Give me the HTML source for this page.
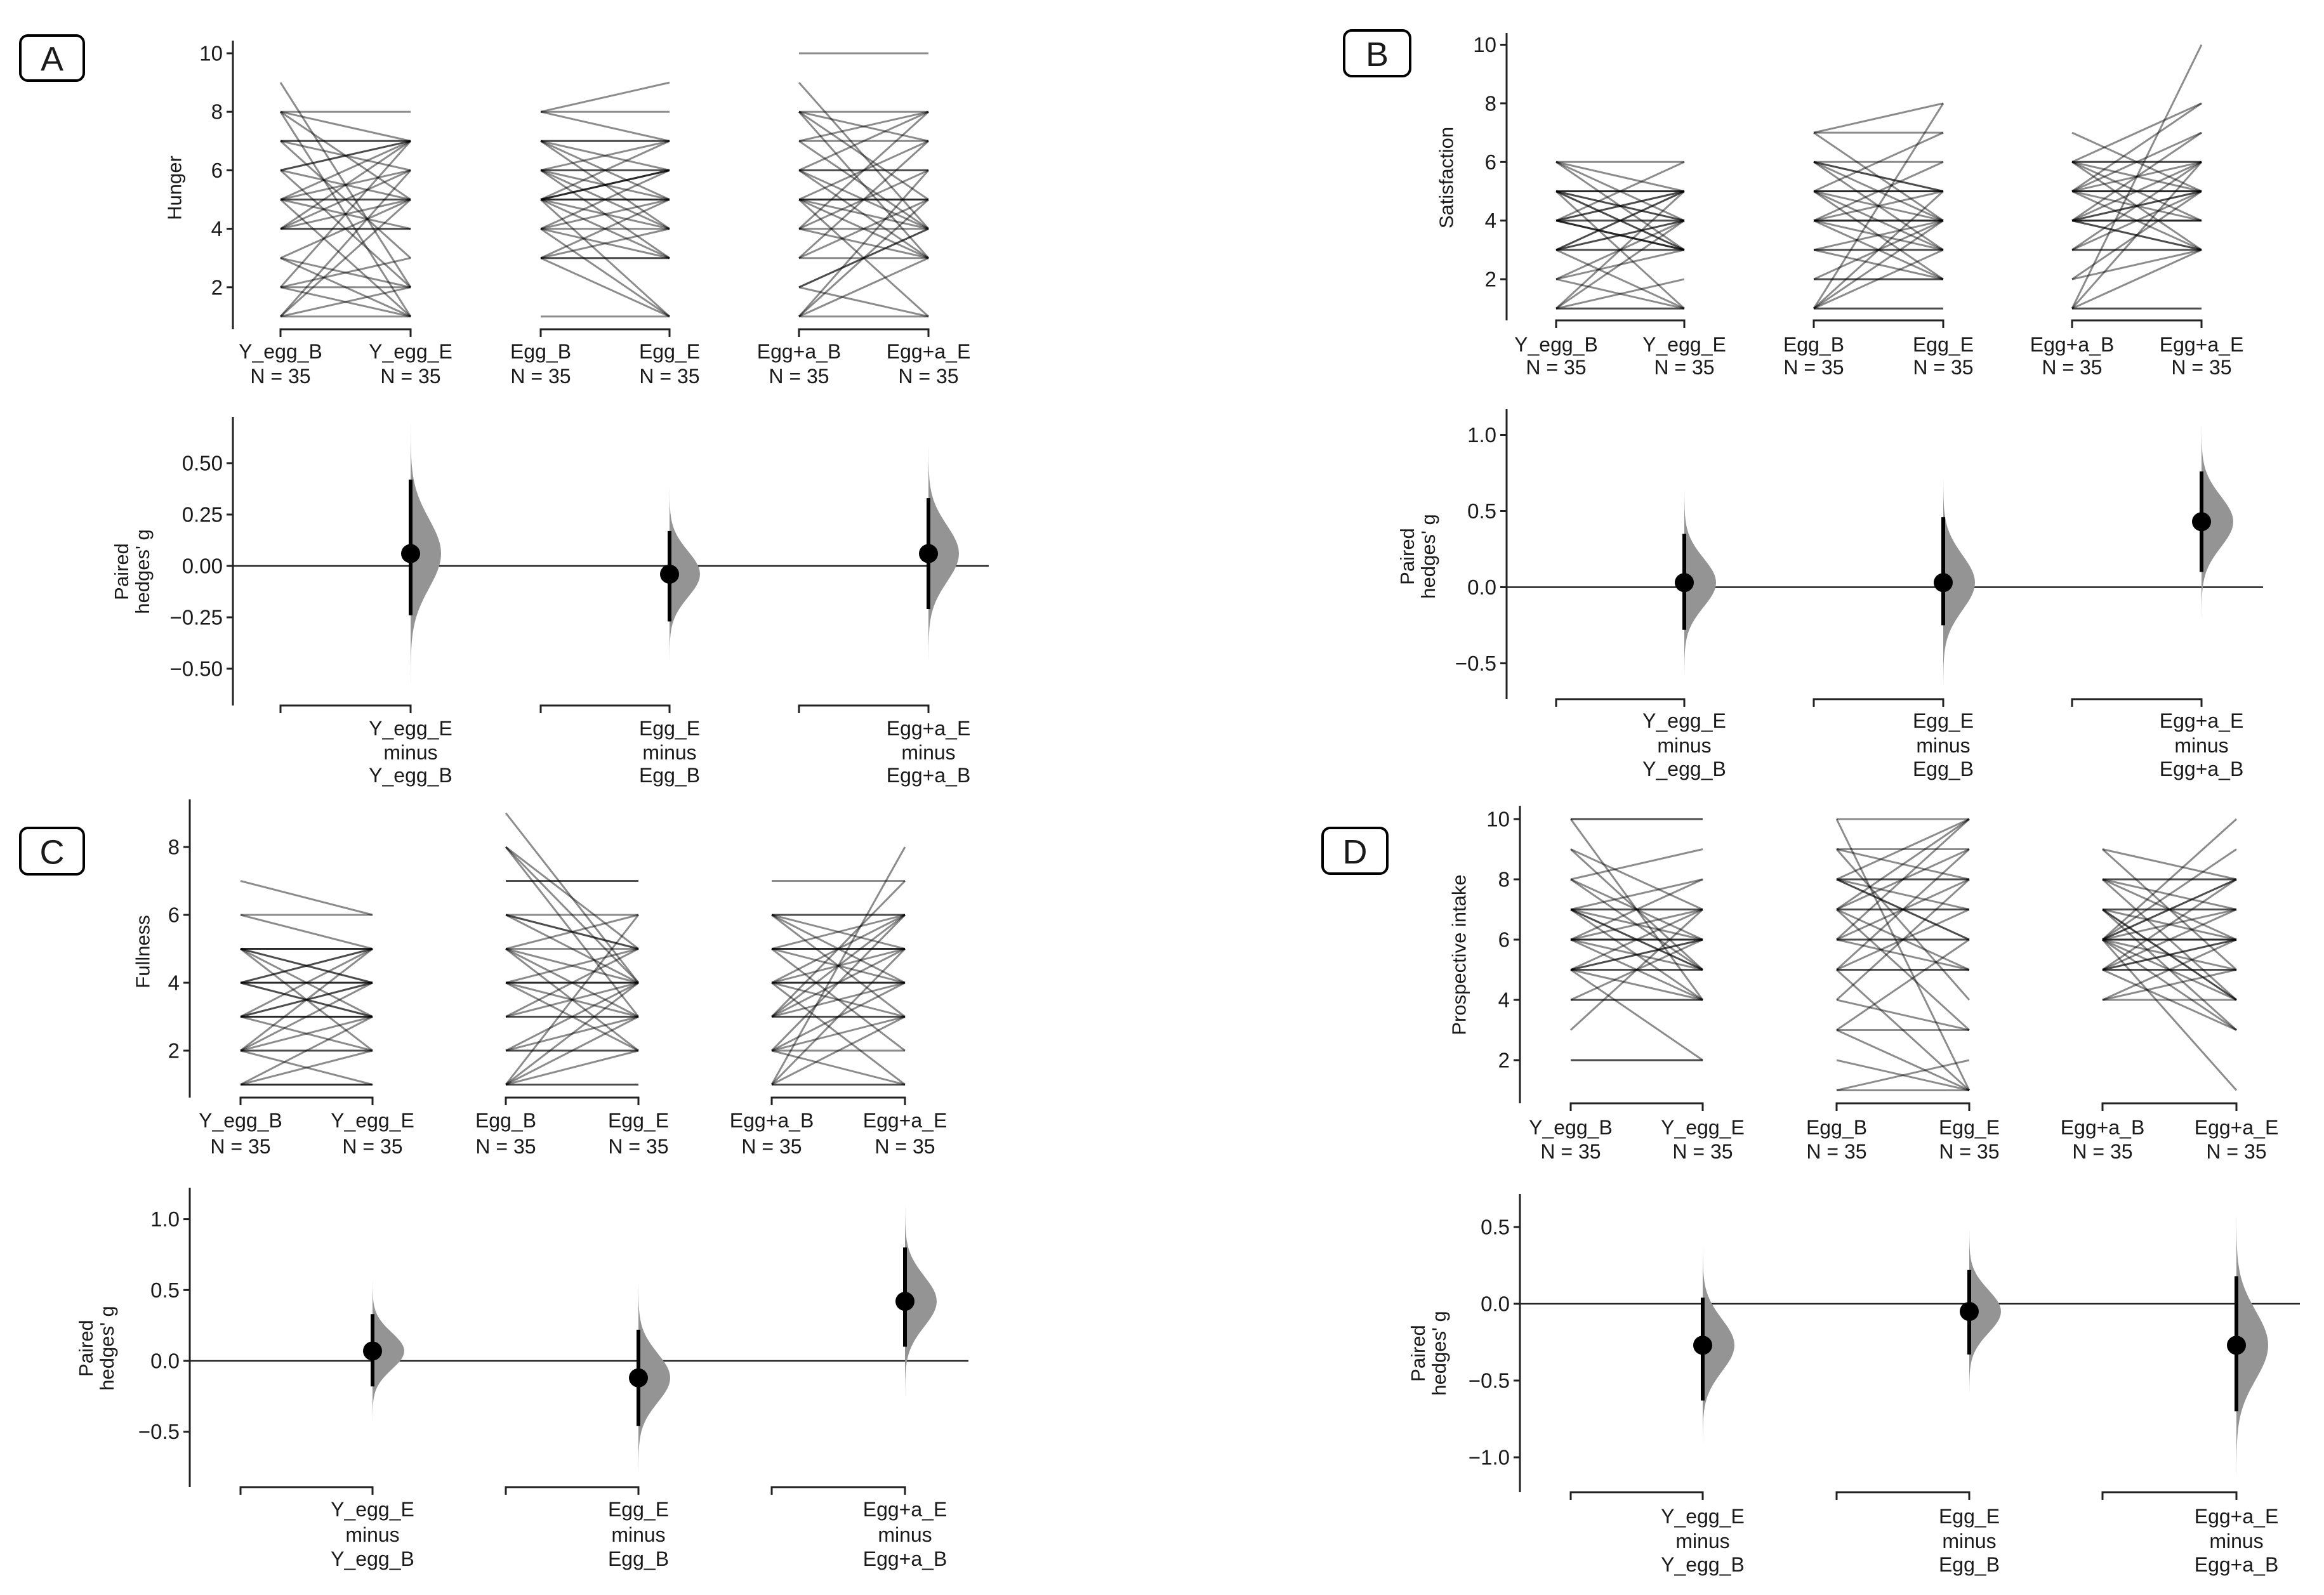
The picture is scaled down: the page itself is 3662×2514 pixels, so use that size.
<!DOCTYPE html>
<html><head><meta charset="utf-8"><style>
html,body{margin:0;padding:0;background:#fff;}
svg{display:block;font-family:"Liberation Sans","DejaVu Sans",sans-serif;}
</style></head><body>
<svg id="fig" width="3662" height="2514" viewBox="0 0 3662 2514" xmlns="http://www.w3.org/2000/svg"></svg>
<script>
const groupNames = ["Y_egg_B","Y_egg_E","Egg_B","Egg_E","Egg+a_B","Egg+a_E"];
const diffLabels = [["Y_egg_E","minus","Y_egg_B"],["Egg_E","minus","Egg_B"],["Egg+a_E","minus","Egg+a_B"]];
const nLabel = "N = 35";
// Panel A — Hunger
const hungerYegg = [[9,2],[8,8],[8,7],[8,5],[8,1],[7,7],[7,7],[7,6],[7,3],[6,7],[6,7],[6,5],[6,2],[5,5],[5,5],[5,6],[5,4],[5,1],[5,7],[4,4],[4,4],[4,7],[4,6],[4,5],[3,2],[3,5],[3,1],[2,2],[2,3],[2,7],[2,1],[1,1],[1,2],[1,6],[1,5]];
const hungerEgg = [[8,9],[8,8],[8,7],[7,7],[7,7],[7,6],[7,4],[7,5],[6,6],[6,6],[6,7],[6,5],[6,3],[5,5],[5,5],[5,6],[5,6],[5,4],[5,7],[5,3],[5,1],[5,6],[4,4],[4,5],[4,6],[4,3],[4,1],[3,3],[3,3],[3,1],[3,4],[3,5],[1,1],[6,4],[5,5]];
const hungerEggA = [[10,10],[9,4],[8,8],[8,7],[8,3],[8,5],[7,7],[7,8],[7,4],[6,6],[6,6],[6,3],[6,8],[5,5],[5,5],[5,5],[5,4],[5,3],[5,7],[5,1],[4,4],[4,8],[4,6],[4,3],[3,5],[3,7],[3,3],[2,1],[2,4],[2,4],[1,1],[1,5],[1,6],[1,3],[6,4]];
const hungerTicks = [2,4,6,8,10];
const hungerG = [0.06,-0.04,0.06];
const hungerLo = [-0.24,-0.27,-0.21];
const hungerHi = [0.42,0.17,0.33];
const hungerGTicks = [-0.5,-0.25,0,0.25,0.5];
// Panel B — Satisfaction
const satYegg = [[6,6],[6,5],[6,3],[6,4],[5,5],[5,5],[5,4],[5,3],[5,1],[5,4],[4,4],[4,4],[4,5],[4,5],[4,3],[4,6],[4,3],[3,3],[3,3],[3,5],[3,4],[3,1],[3,5],[2,4],[2,3],[2,1],[1,1],[1,1],[1,2],[1,5],[1,4],[5,3],[4,3],[3,4],[5,5]];
const satEgg = [[7,8],[7,7],[7,4],[6,6],[6,5],[6,4],[6,3],[6,5],[5,5],[5,5],[5,4],[5,2],[5,7],[5,3],[4,4],[4,4],[4,5],[4,3],[4,6],[4,2],[3,3],[3,3],[3,2],[3,4],[2,2],[2,2],[2,4],[1,8],[1,5],[1,4],[1,3],[1,1],[1,1],[4,4],[5,5]];
const satEggA = [[7,5],[6,8],[6,6],[6,6],[6,4],[6,3],[5,5],[5,5],[5,6],[5,7],[5,4],[5,3],[5,8],[4,4],[4,4],[4,5],[4,6],[4,7],[4,3],[4,3],[4,5],[3,3],[3,3],[3,5],[3,6],[2,3],[2,5],[1,10],[1,1],[1,1],[1,6],[1,3],[4,4],[5,5],[6,5]];
const satTicks = [2,4,6,8,10];
const satG = [0.03,0.03,0.43];
const satLo = [-0.28,-0.25,0.10];
const satHi = [0.35,0.46,0.76];
const satGTicks = [-0.5,0,0.5,1.0];
// Panel C — Fullness
const fullYegg = [[7,6],[6,5],[5,5],[5,5],[5,4],[5,4],[5,3],[5,2],[4,4],[4,4],[4,5],[4,5],[4,3],[3,3],[3,3],[3,4],[3,2],[3,5],[3,4],[2,2],[2,3],[2,1],[2,5],[2,4],[1,1],[1,1],[1,2],[1,3],[1,1],[4,4],[3,3],[5,5],[2,2],[6,6],[4,3]];
const fullEgg = [[9,4],[8,4],[8,3],[8,5],[7,7],[7,7],[6,6],[6,4],[6,5],[5,5],[5,4],[5,3],[5,2],[5,6],[4,4],[4,4],[4,4],[4,5],[4,2],[4,3],[3,3],[3,3],[3,4],[3,5],[2,2],[2,2],[2,4],[2,3],[1,1],[1,1],[1,4],[1,3],[1,2],[1,6],[6,5]];
const fullEggA = [[7,7],[6,6],[6,5],[6,3],[6,4],[5,5],[5,5],[5,4],[5,2],[5,6],[4,4],[4,4],[4,6],[4,5],[4,3],[4,1],[3,3],[3,3],[3,5],[3,6],[3,7],[2,2],[2,6],[2,3],[2,4],[1,1],[1,1],[1,8],[1,5],[1,3],[4,4],[5,5],[3,4],[2,1],[6,6]];
const fullTicks = [2,4,6,8];
const fullG = [0.07,-0.12,0.42];
const fullLo = [-0.18,-0.46,0.10];
const fullHi = [0.33,0.22,0.80];
const fullGTicks = [-0.5,0,0.5,1.0];
// Panel D — Prospective intake
const prosYegg = [[10,10],[10,10],[10,4],[9,7],[9,5],[8,9],[8,6],[8,5],[7,7],[7,7],[7,6],[7,5],[7,4],[7,8],[6,6],[6,6],[6,5],[6,7],[6,4],[6,8],[5,5],[5,5],[5,7],[5,6],[5,4],[5,2],[4,4],[4,4],[4,6],[3,7],[2,2],[2,2],[6,6],[5,6],[7,5]];
const prosEgg = [[10,10],[10,1],[9,8],[9,9],[9,4],[8,8],[8,8],[8,7],[8,10],[8,6],[7,7],[7,7],[7,9],[7,5],[7,3],[6,6],[6,6],[6,8],[6,10],[5,5],[5,5],[5,9],[5,1],[5,7],[4,3],[4,8],[3,3],[3,1],[3,6],[2,1],[1,1],[1,2],[6,5],[7,10],[8,6]];
const prosEggA = [[9,5],[9,8],[8,8],[8,8],[8,4],[8,6],[7,7],[7,7],[7,4],[7,3],[7,6],[6,6],[6,6],[6,8],[6,7],[6,5],[6,4],[6,10],[6,3],[6,1],[6,9],[5,5],[5,5],[5,8],[5,7],[5,3],[5,6],[4,4],[4,6],[4,5],[6,8],[7,4],[5,6],[6,6],[8,7]];
const prosTicks = [2,4,6,8,10];
const prosG = [-0.27,-0.05,-0.27];
const prosLo = [-0.63,-0.33,-0.70];
const prosHi = [0.04,0.22,0.18];
const prosGTicks = [-1.0,-0.5,0,0.5];

const NS = "http://www.w3.org/2000/svg";
const svg = document.getElementById("fig");
function mk(tag, attrs, parent){
  const e = document.createElementNS(NS, tag);
  for (const k in attrs) e.setAttribute(k, attrs[k]);
  (parent||svg).appendChild(e);
  return e;
}
function txt(parent, x, y, s, size, anchor, extra){
  const t = mk("text", Object.assign({x:x, y:y, "font-size":size, "text-anchor":anchor||"middle", "dominant-baseline":"central", fill:"#1a1a1a"}, extra||{}), parent);
  t.textContent = s;
  return t;
}

const panels = [
  {id:"a", letter:"A", title:"Hunger", pairs:[hungerYegg,hungerEgg,hungerEggA], ticks:hungerTicks, g:hungerG, lo:hungerLo, hi:hungerHi, gticks:hungerGTicks, dec:2,
   ax:367, top:[64,519], v0:10, y0:84, unit:46.1, cats:[442,647,852,1055,1259,1463], lab:[554,593],
   low:[657,1112], zero:892, gs:324, zEnd:1558, blab:[1148,1186,1222], box:[32,56,100,71], yt:[275,296], pt:[206,901], vw:48},
  {id:"b", letter:"B", title:"Satisfaction", pairs:[satYegg,satEgg,satEggA], ticks:satTicks, g:satG, lo:satLo, hi:satHi, gticks:satGTicks, dec:1,
   ax:2374, top:[52,505], v0:10, y0:70.5, unit:46.2, cats:[2452,2654,2858,3062,3265,3469], lab:[543,579],
   low:[645,1102], zero:925.5, gs:240, zEnd:3566, blab:[1136,1175,1212], box:[2118,48,104,72], yt:[2279,280], pt:[2232,877], vw:50},
  {id:"c", letter:"C", title:"Fullness", pairs:[fullYegg,fullEgg,fullEggA], ticks:fullTicks, g:fullG, lo:fullLo, hi:fullHi, gticks:fullGTicks, dec:1,
   ax:299, top:[1260,1730], v0:8, y0:1335, unit:53.5, cats:[379,587,797,1006,1216,1426], lab:[1766,1807],
   low:[1872,2344], zero:2145, gs:223.4, zEnd:1526, blab:[2379,2419,2457], box:[32,1305,100,73], yt:[225,1500], pt:[150,2125], vw:50},
  {id:"d", letter:"D", title:"Prospective intake", pairs:[prosYegg,prosEgg,prosEggA], ticks:prosTicks, g:prosG, lo:prosLo, hi:prosHi, gticks:prosGTicks, dec:1,
   ax:2395, top:[1270,1739], v0:10, y0:1291, unit:47.5, cats:[2475,2683,2894,3103,3313,3524], lab:[1777,1815],
   low:[1882,2352], zero:2055, gs:242, zEnd:3624, blab:[2390,2429,2466], box:[2084,1305,102,72], yt:[2299,1505], pt:[2249,2133], vw:50}
];

panels.forEach(p => {
  const G = mk("g", {});
  
  
  const yS = v => p.y0 + (p.v0 - v) * p.unit;
  const gY = v => p.zero - v * p.gs;

  // letter box
  const bx = mk("rect", {x:p.box[0], y:p.box[1], width:p.box[2], height:p.box[3], rx:12, fill:"#fff", stroke:"#000", "stroke-width":4}, G);
  
  
  const lt = txt(G, p.box[0]+p.box[2]/2, p.box[1]+p.box[3]/2+2, p.letter, 54);
  
  

  // slopegraph lines
  const lines = mk("g", {stroke:"#000", "stroke-opacity":0.45, "stroke-width":3, fill:"none"}, G);
  
  
  p.pairs.forEach((arr, gi) => {
    arr.forEach(pr => {
      const l = mk("line", {x1:p.cats[gi*2], y1:yS(pr[0]), x2:p.cats[gi*2+1], y2:yS(pr[1])}, lines);
      
      
    });
  });

  // top y axis
  const ya = mk("line", {x1:p.ax, y1:p.top[0], x2:p.ax, y2:p.top[1], stroke:"#222", "stroke-width":3}, G);
  
  
  p.ticks.forEach(t => {
    mk("line", {x1:p.ax-10, y1:yS(t), x2:p.ax, y2:yS(t), stroke:"#222", "stroke-width":3}, G);
    const tl = txt(G, p.ax-16, yS(t), String(t), 33, "end");
    
    
  });
  const yt = txt(G, p.yt[0], p.yt[1], p.title, 31, "middle", {transform:`rotate(-90 ${p.yt[0]} ${p.yt[1]})`});
  
  

  // group brackets and labels (top)
  for (let gi=0; gi<3; gi++){
    const xa = p.cats[gi*2], xb = p.cats[gi*2+1], by = p.top[1];
    const br = mk("path", {d:`M${xa} ${by+12} V${by} H${xb} V${by+12}`, stroke:"#222", "stroke-width":3, fill:"none"}, G);
    
    
  }
  groupNames.forEach((n, i) => {
    const a = txt(G, p.cats[i], p.lab[0], n, 32);
    
    
    const b = txt(G, p.cats[i], p.lab[1], nLabel, 32);
    
    
  });

  // lower effect-size axis
  const la = mk("line", {x1:p.ax, y1:p.low[0], x2:p.ax, y2:p.low[1], stroke:"#222", "stroke-width":3}, G);
  
  
  p.gticks.forEach(t => {
    mk("line", {x1:p.ax-10, y1:gY(t), x2:p.ax, y2:gY(t), stroke:"#222", "stroke-width":3}, G);
    const s = (t < 0 ? "\u2212" : "") + Math.abs(t).toFixed(p.dec);
    const tl = txt(G, p.ax-16, gY(t), s, 33, "end");
    
    
  });
  const zl = mk("line", {x1:p.ax, y1:p.zero, x2:p.zEnd, y2:p.zero, stroke:"#222", "stroke-width":2.5}, G);
  
  
  const pt = mk("text", {x:p.pt[0], y:p.pt[1], "font-size":31, "text-anchor":"middle", fill:"#1a1a1a", transform:`rotate(-90 ${p.pt[0]} ${p.pt[1]})`}, G);
  
  
  const t1 = mk("tspan", {x:p.pt[0], dy:-4}, pt); t1.textContent = "Paired";
  const t2 = mk("tspan", {x:p.pt[0], dy:33}, pt); t2.textContent = "hedges' g";

  for (let gi=0; gi<3; gi++){
    const xa = p.cats[gi*2], xb = p.cats[gi*2+1], by = p.low[1];
    const br = mk("path", {d:`M${xa} ${by+12} V${by} H${xb} V${by+12}`, stroke:"#222", "stroke-width":3, fill:"none"}, G);
    
    
    diffLabels[gi].forEach((s, k) => {
      const t = txt(G, xb, p.blab[k], s, 32);
      
      
    });
    // bootstrap distribution (half violin)
    const m = p.g[gi], sd = (p.hi[gi]-p.lo[gi])/3.92;
    let d = `M${xb} ${gY(m+4.2*sd)}`;
    const pts = [];
    for (let k=0; k<=80; k++){
      const v = m + 4.2*sd - k*(8.4*sd/80);
      const z = (v-m)/sd;
      pts.push(`L${(xb + p.vw*Math.exp(-0.5*z*z)).toFixed(1)} ${gY(v).toFixed(1)}`);
    }
    d += pts.join("") + "Z";
    const vio = mk("path", {d:d, fill:"#949494", stroke:"none"}, G);
    
    
    const ci = mk("line", {x1:xb, y1:gY(p.lo[gi]), x2:xb, y2:gY(p.hi[gi]), stroke:"#000", "stroke-width":6}, G);
    
    
    const dot = mk("circle", {cx:xb, cy:gY(m), r:15, fill:"#000"}, G);
    
    
  }
});
</script>
</body></html>
